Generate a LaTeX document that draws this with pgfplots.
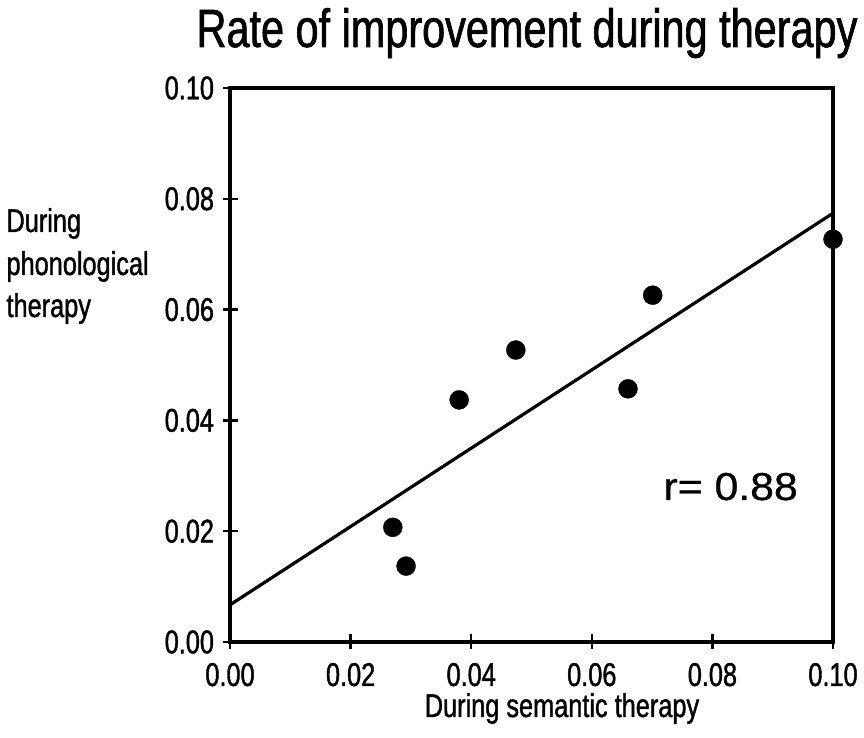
\documentclass[border=0pt]{standalone}
\usepackage{fontspec}
\setmainfont{Liberation Sans}[FakeStretch=0.77,FakeBold=1.2]
\newfontfamily\rfont{Liberation Sans}[FakeStretch=1.1,FakeBold=0.8]
\usepackage{pgfplots}
\pgfplotsset{compat=1.18}
\begin{document}
\begin{tikzpicture}[x=1bp,y=1bp]
\useasboundingbox (0,0) rectangle (864,738);
\begin{axis}[
  at={(230bp,96bp)}, anchor=south west,
  scale only axis, width=603bp, height=554bp,
  xmin=0, xmax=0.1, ymin=0, ymax=0.1,
  clip=false,
  axis line style={line width=3.5bp},
  tick align=center, major tick length=15bp,
  tick style={line width=2.5bp, black},
  tick pos=left,
  xtick={0,0.02,0.04,0.06,0.08,0.1},
  ytick={0,0.02,0.04,0.06,0.08,0.1},
  scaled ticks=false,
  ticklabel style={font=\fontsize{33}{36}\selectfont},
  xticklabel style={yshift=-10bp},
  yticklabel style={xshift=-5bp},
  /pgf/number format/.cd, fixed, fixed zerofill, precision=2, assume math mode=true
]
\addplot[black, line width=3.2bp] coordinates {(0,0.0067) (0.1,0.0774)};
\addplot[only marks, mark=*, mark size=9.5bp, black] coordinates {
(0.0270,0.0207) (0.0292,0.0137) (0.0380,0.0437) (0.0474,0.0527)
(0.0660,0.0457) (0.0701,0.0626) (0.1000,0.0727)};
\end{axis}
\node[anchor=base, font=\fontsize{54}{60}\selectfont] at (527,691) {Rate of improvement during therapy};
\node[anchor=base, font=\fontsize{33}{36}\selectfont] at (562,21) {During semantic therapy};
\node[anchor=base west, font=\fontsize{33}{36}\selectfont] at (3,506) {During};
\node[anchor=base west, font=\fontsize{33}{36}\selectfont] at (3,463) {phonological};
\node[anchor=base west, font=\fontsize{33}{36}\selectfont] at (3,421) {therapy};
\node[anchor=base west, font=\rfont\fontsize{39}{44}\selectfont] at (660,238) {r= 0.88};
\end{tikzpicture}
\end{document}
